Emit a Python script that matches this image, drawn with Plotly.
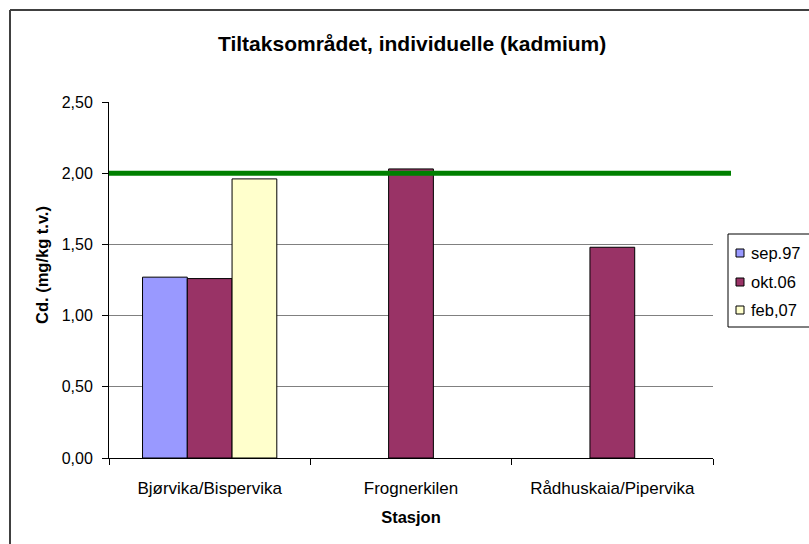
import plotly.graph_objects as go

categories = ["Bjørvika/Bispervika", "Frognerkilen", "Rådhuskaia/Pipervika"]
series_names = ["sep.97", "okt.06", "feb,07"]
sep97 = [1.27, None, None]
okt06 = [1.26, 2.03, 1.48]
feb07 = [1.96, None, None]
limit_value = 2.0
y_ticks = [0, 0.5, 1.0, 1.5, 2.0, 2.5]

colors = ["#9999FF", "#993366", "#FFFFCC"]
FONT = "Liberation Sans, Arial, sans-serif"

fig = go.Figure()
for name, vals, col in zip(series_names, [sep97, okt06, feb07], colors):
    fig.add_trace(go.Bar(
        x=categories, y=vals, name=name, showlegend=False,
        marker=dict(color=col, line=dict(color="black", width=1)),
    ))

W, H = 809, 544
L, R, T, B = 109, 96, 102, 86
pw, ph = W - L - R, H - T - B

def px(xp):
    return (xp - L) / pw

def py(yp):
    return (H - B - yp) / ph

shapes = [
    # limit line
    dict(type="line", xref="paper", yref="y", x0=0, x1=px(731), y0=limit_value, y1=limit_value,
         line=dict(color="#008000", width=5)),
    # outer frame (top and left)
    dict(type="line", xref="paper", yref="paper", x0=px(10), x1=px(820), y0=py(10), y1=py(10),
         line=dict(color="#404040", width=2)),
    dict(type="line", xref="paper", yref="paper", x0=px(10), x1=px(10), y0=py(10), y1=py(560),
         line=dict(color="#404040", width=2)),
    # legend box
    dict(type="rect", xref="paper", yref="paper", x0=px(728), x1=px(815), y0=py(234), y1=py(327),
         line=dict(color="black", width=1), fillcolor="white", layer="above"),
]
annotations = [
    dict(text="<b>Tiltaksområdet, individuelle (kadmium)</b>", xref="paper", yref="paper",
         x=px(412), y=py(43), xanchor="center", yanchor="middle", showarrow=False,
         font=dict(size=21, family=FONT, color="black")),
    dict(text="<b>Cd. (mg/kg t.v.)</b>", xref="paper", yref="paper", textangle=-90,
         x=px(42), y=py(265), xanchor="center", yanchor="middle", showarrow=False,
         font=dict(size=16.5, family=FONT, color="black")),
]
entry_y = [253, 282, 310]
for name, col, ey in zip(series_names, colors, entry_y):
    shapes.append(dict(type="rect", xref="paper", yref="paper",
                       x0=px(736), x1=px(744), y0=py(ey - 4), y1=py(ey + 4),
                       line=dict(color="black", width=1), fillcolor=col, layer="above"))
    annotations.append(dict(text=name, xref="paper", yref="paper", x=px(749), y=py(ey),
                            xanchor="left", yanchor="middle", showarrow=False,
                            font=dict(size=16.5, family=FONT, color="black")))

fig.update_layout(
    width=W, height=H,
    margin=dict(l=L, r=R, t=T, b=B, autoexpand=False),
    paper_bgcolor="white", plot_bgcolor="white",
    font=dict(family=FONT, size=15, color="black"),
    separators=",.",
    barmode="group", bargap=0.333, bargroupgap=0,
    showlegend=False,
    xaxis=dict(showline=True, linecolor="black", linewidth=1, ticks="outside", ticklen=6,
               tickcolor="black", tickson="boundaries", showgrid=False, ticklabelstandoff=15,
               title=dict(text="<b>Stasjon</b>", font=dict(size=16.5), standoff=14),
               tickfont=dict(size=17)),
    yaxis=dict(range=[0, 2.5], tickvals=y_ticks, tickformat=".2f", showline=True,
               linecolor="black", linewidth=1, ticks="outside", ticklen=6, tickcolor="black",
               showgrid=True, gridcolor="#808080", gridwidth=1, zeroline=False,
               ticklabelstandoff=6, tickfont=dict(size=16)),
    shapes=shapes,
    annotations=annotations,
)

fig.write_html("out.html", config={"displayModeBar": False},
               post_script="document.body.style.margin='0';document.body.style.overflow='hidden';")
